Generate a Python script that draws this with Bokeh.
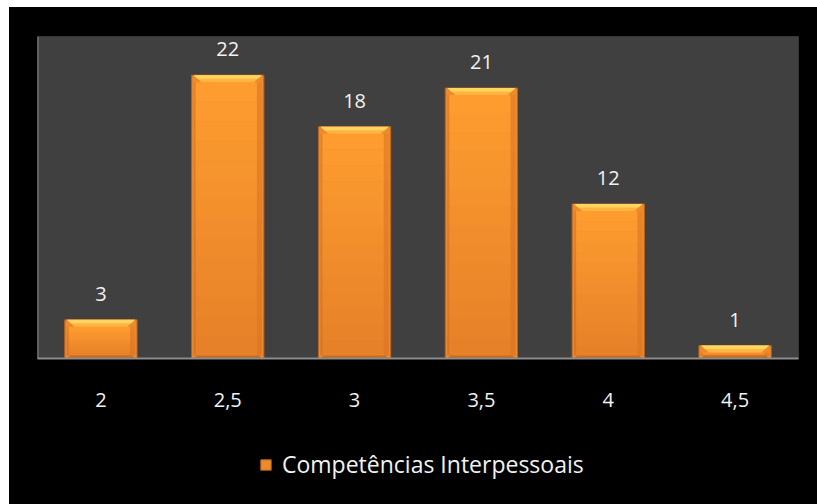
import numpy as np
from bokeh.plotting import figure
from bokeh.layouts import column
from bokeh.models import (Legend, LegendItem, Span, Range1d, FixedTicker)
from bokeh.core.properties import value
from bokeh.embed import file_html
from bokeh.resources import INLINE

# ---- data ----
categories = ["2", "2,5", "3", "3,5", "4", "4,5"]
counts = [3, 22, 18, 21, 12, 1]
series_name = "Competências Interpessoais"
y_max = 25

# ---- layout constants ----
W, H = 808, 413
ML, MR, MT, MB = 28, 19, 29, 62
LH = 84
FONT = "Open Sans"
TXT = "#F2F2F2"

n = len(categories)
xs = np.arange(n, dtype=float)
vals = np.array(counts, dtype=float)

p = figure(width=W, height=H, output_backend="svg", toolbar_location=None,
           x_range=Range1d(-0.5, n - 0.5), y_range=Range1d(0, y_max),
           y_axis_location=None,
           min_border_left=ML, min_border_right=MR,
           min_border_top=MT, min_border_bottom=MB)
p.border_fill_color = "black"
p.background_fill_color = "#404040"
p.outline_line_color = "#363636"
p.xgrid.visible = False
p.ygrid.visible = False

# pixel -> data conversions
px_x = (W - ML - MR) / n
px_y = (H - MT - MB) / y_max
bw = 0.57
edge = 2 / px_x
side = 5 / px_x
top_b = 7 / px_y
top_in = 8 / px_x
bot_b = 3 / px_y

BAR_FILL = "#EC8A2D"
BAR_LINE = "#B8621E"

# base bar (gives dark edges)
base = p.vbar(x=xs, top=vals, bottom=0, width=bw, fill_color=BAR_FILL,
              line_color=BAR_LINE, line_width=1)

# body gradient segments
N = 14
c_bot = np.array([0xE6, 0x80, 0x29])
c_top = np.array([0xFF, 0x9E, 0x30])
seg_x, seg_b, seg_t, seg_c = [], [], [], []
for i in range(n):
    y0 = bot_b
    y1 = vals[i] - top_b
    for k in range(N):
        f = (k + 0.5) / N
        c = (c_bot + (c_top - c_bot) * f).astype(int)
        seg_x.append(xs[i])
        seg_b.append(y0 + (y1 - y0) * k / N)
        seg_t.append(y0 + (y1 - y0) * (k + 1) / N + 0.001)
        seg_c.append("#%02x%02x%02x" % tuple(c))
p.vbar(x=seg_x, bottom=seg_b, top=seg_t, width=bw - 2 * edge,
       fill_color=seg_c, line_color=None)

# right side shading
p.quad(left=xs + bw / 2 - edge - side, right=xs + bw / 2 - edge,
       bottom=bot_b, top=vals - top_b, fill_color="#D97524", fill_alpha=0.6,
       line_color=None)
# left side edge
p.quad(left=xs - bw / 2 + edge, right=xs - bw / 2 + edge + 2 / px_x,
       bottom=bot_b, top=vals - top_b, fill_color="#C8691F", fill_alpha=0.5,
       line_color=None)

# top bevel (trapezoids)
def trap(x, v, h, inset_frac):
    xl = x - bw / 2 + edge
    xr = x + bw / 2 - edge
    return ([xl, xr, xr - top_in * inset_frac, xl + top_in * inset_frac],
            [v, v, v - h, v - h])

tx, ty, ux, uy, bx, by = [], [], [], [], [], []
for i in range(n):
    a, b = trap(xs[i], vals[i], top_b, 1.0)
    tx.append(a); ty.append(b)
    a, b = trap(xs[i], vals[i], top_b * 0.5, 0.5)
    ux.append(a); uy.append(b)
    xl = xs[i] - bw / 2 + edge
    xr = xs[i] + bw / 2 - edge
    bx.append([xl, xr, xr - 3 / px_x, xl + 3 / px_x])
    by.append([0, 0, bot_b, bot_b])
p.patches(tx, ty, fill_color="#FFB540", line_color=None)
p.patches(ux, uy, fill_color="#FFD562", line_color=None)
p.patches(bx, by, fill_color="#C9691F", line_color=None)

# value labels
p.text(x=xs, y=vals, text=[str(c) for c in counts], y_offset=-19,
       text_baseline="bottom", text_align="center",
       text_font=value(FONT), text_font_size="20px", text_color=TXT)

# left axis line
p.add_layout(Span(location=p.x_range.start, dimension="height",
                  line_color="#858585", line_width=2))

# x axis
ax = p.xaxis[0]
ax.ticker = FixedTicker(ticks=list(range(n)))
ax.major_label_overrides = {i: c for i, c in enumerate(categories)}
ax.axis_line_color = "#8C8C8C"
ax.axis_line_width = 2
ax.major_tick_line_color = None
ax.minor_tick_line_color = None
ax.major_tick_out = 0
ax.major_label_standoff = 34
ax.major_label_text_font = FONT
ax.major_label_text_font_size = "20px"
ax.major_label_text_color = TXT

# legend strip (separate figure below the chart)
lf = figure(width=W, height=LH, output_backend="svg", toolbar_location=None,
            x_range=Range1d(0, 1), y_range=Range1d(0, 1),
            x_axis_location=None, y_axis_location=None,
            min_border=0)
lf.border_fill_color = "black"
lf.background_fill_color = "black"
lf.outline_line_color = "black"
lf.outline_line_width = 3
lf.xgrid.visible = False
lf.ygrid.visible = False
# key glyph kept outside the visible range; only its legend swatch shows
key = lf.vbar(x=[-5], top=[-5], bottom=[-6], width=0.5, fill_color=BAR_FILL,
              line_color=BAR_LINE, line_width=1)
legend = Legend(items=[LegendItem(label=series_name, renderers=[key])],
                location=(218, 20), orientation="horizontal",
                background_fill_alpha=0, border_line_alpha=0,
                label_text_font=FONT, label_text_font_size="23px",
                label_text_color=TXT, glyph_width=13, glyph_height=13,
                label_standoff=10, margin=0, padding=4)
lf.add_layout(legend)

layout = column(p, lf, spacing=0, margin=(7, 0, 0, 9),
                styles={"background-color": "black"})
open("out.html", "w").write(file_html(layout, INLINE))
